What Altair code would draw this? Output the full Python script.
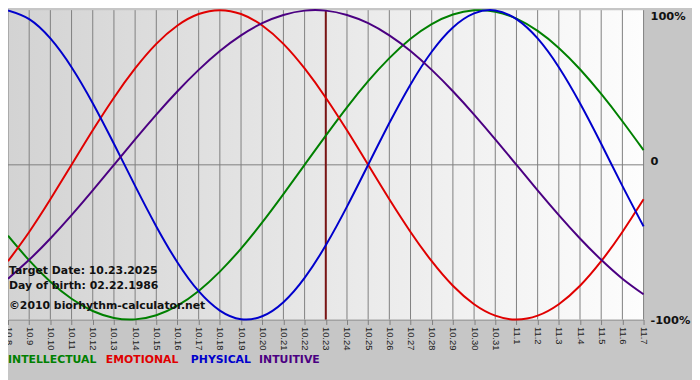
import altair as alt
import pandas as pd

# ---- data ----
dates = ["10.8", "10.9", "10.10", "10.11", "10.12", "10.13", "10.14", "10.15", "10.16",
         "10.17", "10.18", "10.19", "10.20", "10.21", "10.22", "10.23", "10.24", "10.25",
         "10.26", "10.27", "10.28", "10.29", "10.30", "10.31", "11.1", "11.2", "11.3",
         "11.4", "11.5", "11.6", "11.7"]

intellectual = [-45.8, -61.8, -75.6, -86.6, -94.5, -99.0, -99.9, -97.2, -91.0, -81.5, -69.0,
                -54.1, -37.2, -18.9, 0.0, 18.9, 37.2, 54.1, 69.0, 81.5, 91.0, 97.2, 99.9,
                99.0, 94.5, 86.6, 75.6, 61.8, 45.8, 28.2, 9.5]
emotional = [-62.3, -43.4, -22.3, 0.0, 22.3, 43.4, 62.3, 78.2, 90.1, 97.5, 100.0, 97.5, 90.1,
             78.2, 62.3, 43.4, 22.3, 0.0, -22.3, -43.4, -62.3, -78.2, -90.1, -97.5, -100.0,
             -97.5, -90.1, -78.2, -62.3, -43.4, -22.3]
physical = [99.8, 94.2, 81.7, 63.1, 39.8, 13.6, -13.6, -39.8, -63.1, -81.7, -94.2, -99.8,
            -97.9, -88.8, -73.1, -52.0, -27.0, 0.0, 27.0, 52.0, 73.1, 88.8, 97.9, 99.8, 94.2,
            81.7, 63.1, 39.8, 13.6, -13.6, -39.8]
intuitive = [-73.6, -61.4, -47.6, -32.5, -16.5, 0.0, 16.5, 32.5, 47.6, 61.4, 73.6, 83.7, 91.6,
             96.9, 99.7, 99.7, 96.9, 91.6, 83.7, 73.6, 61.4, 47.6, 32.5, 16.5, 0.0, -16.5,
             -32.5, -47.6, -61.4, -73.6, -83.7]

series_names = ["INTELLECTUAL", "EMOTIONAL", "PHYSICAL", "INTUITIVE"]
series_colors = ["#008000", "#e00000", "#0000cc", "#4b0082"]
target_date = "10.23"
ylabel_values = [100, 0, -100]
ylabel_texts = ["100%", "0", "-100%"]
info_texts = ["Target Date: 10.23.2025", "Day of birth: 02.22.1986",
              "\u00a92010 biorhythm-calculator.net"]

# ---- build table ----
rows = []
for name, vals in zip(series_names, [intellectual, emotional, physical, intuitive]):
    for i, (d, v) in enumerate(zip(dates, vals)):
        rows.append({"date": d, "idx": i, "value": v, "series": name})
df = pd.DataFrame(rows)

W, H = 643, 313
FONT = "DejaVu Sans"

xscale = alt.Scale(type="point", padding=0, domain=dates)
yscale = alt.Scale(domain=[-100, 100], nice=False, zero=False)
xaxis = alt.Axis(title=None, grid=False, labelAngle=90, labelAlign="left",
                 labelBaseline="middle", labelFont="Liberation Sans", labelFontSize=9.5,
                 labelColor="#222222", labelPadding=2, labelOverlap=False,
                 tickSize=5, tickColor="#808080", domainColor="#808080",
                 labelBound=False)

gradient = alt.Gradient(
    gradient="linear",
    stops=[alt.GradientStop(color="#d3d3d3", offset=0),
           alt.GradientStop(color="#fdfdfd", offset=1)],
    x1=0, x2=1, y1=0, y2=0,
)

bg = alt.Chart(pd.DataFrame({"k": [0]})).mark_rect(fill=gradient).encode(
    x=alt.value(0), x2=alt.value(W), y=alt.value(0), y2=alt.value(H)
)

grid = alt.Chart(pd.DataFrame({"date": dates})).mark_rule(
    color="#808080", strokeWidth=1
).encode(x=alt.X("date:O", scale=xscale, axis=xaxis))

zero = alt.Chart(pd.DataFrame({"value": [0]})).mark_rule(
    color="#808080", strokeWidth=1
).encode(y=alt.Y("value:Q", scale=yscale, axis=None))

target = alt.Chart(pd.DataFrame({"date": [target_date]})).mark_rule(
    color="#7a1414", strokeWidth=2
).encode(x=alt.X("date:O", scale=xscale, axis=xaxis))

lines = alt.Chart(df).mark_line(strokeWidth=2, interpolate="natural").encode(
    x=alt.X("date:O", scale=xscale, axis=xaxis),
    y=alt.Y("value:Q", scale=yscale, axis=None),
    color=alt.Color("series:N", scale=alt.Scale(domain=series_names, range=series_colors),
                    legend=None),
    order=alt.Order("idx:Q"),
)

layers = [bg, grid, zero, target, lines]

# right-hand percentage labels
ylab_style = [("top", 1), ("middle", -3), ("middle", 2)]
for v, t, (bl, dy) in zip(ylabel_values, ylabel_texts, ylab_style):
    layers.append(
        alt.Chart(pd.DataFrame({"value": [v], "label": [t]})).mark_text(
            align="left", baseline=bl, dy=dy, font=FONT, fontSize=11.5,
            fontWeight="bold", color="#111111"
        ).encode(x=alt.value(W + 7), y=alt.Y("value:Q", scale=yscale, axis=None),
                 text="label:N")
    )

# info text block inside the plot
for t, yy in zip(info_texts, [264, 279, 299]):
    layers.append(
        alt.Chart(pd.DataFrame({"label": [t]})).mark_text(
            align="left", baseline="middle", font=FONT, fontSize=11,
            fontWeight="bold", color="#111111"
        ).encode(x=alt.value(1), y=alt.value(yy), text="label:N")
    )

# bottom legend texts
for name, col, xx in zip(series_names, series_colors, [0, 99, 185, 254]):
    layers.append(
        alt.Chart(pd.DataFrame({"label": [name]})).mark_text(
            align="left", baseline="middle", font=FONT, fontSize=11,
            fontWeight="bold", color=col
        ).encode(x=alt.value(xx), y=alt.value(354), text="label:N")
    )

chart = alt.layer(*layers).properties(
    width=W, height=H,
    autosize=alt.AutoSizeParams(type="none"),
    padding={"left": 0, "top": 0, "right": 49, "bottom": 59},
    background="#c6c6c6",
).configure_view(strokeWidth=0)

chart.save("out.html", embed_options={"renderer": "svg", "actions": False})
